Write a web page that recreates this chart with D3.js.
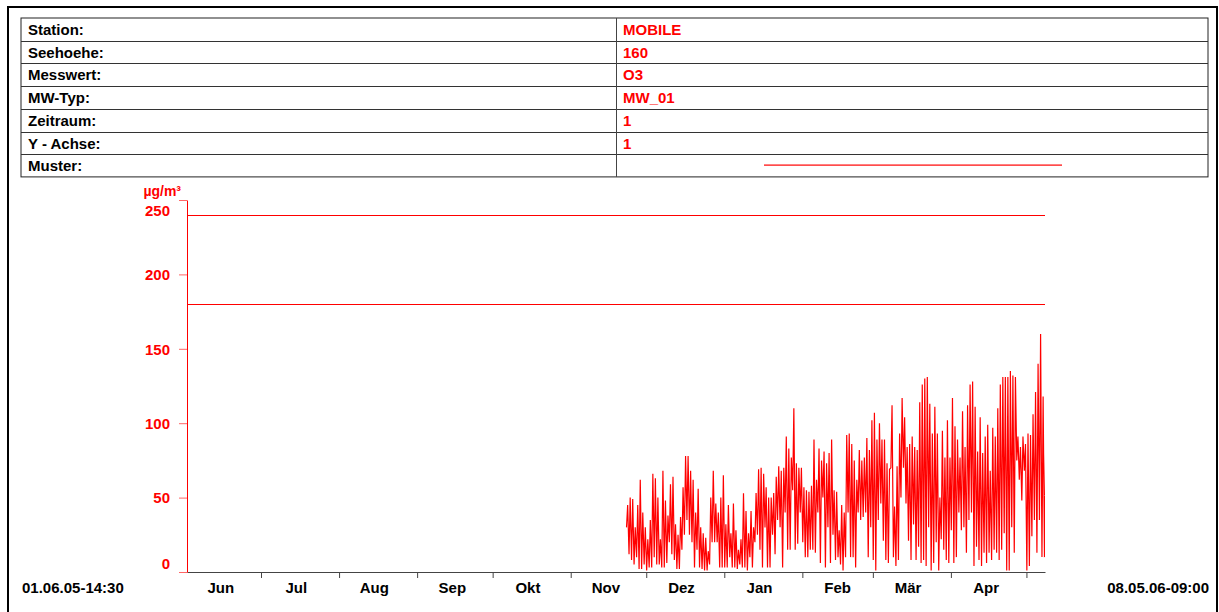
<html>
<head>
<meta charset="utf-8">
<title>O3 MOBILE</title>
<style>
  body { margin: 0; background: #fff; }
  text { font-family: "Liberation Sans", Arial, sans-serif; font-weight: bold; }
</style>
</head>
<body>
<script src="https://cdn.jsdelivr.net/npm/d3@7"></script>
<script>
    // Kopf-Tabelle
    var infoLabels = ["Station:", "Seehoehe:", "Messwert:", "MW-Typ:", "Zeitraum:", "Y - Achse:", "Muster:"];
    var infoValues = ["MOBILE", "160", "O3", "MW_01", "1", "1", ""];

    // Achsen
    var monthNames = ["Jun", "Jul", "Aug", "Sep", "Okt", "Nov", "Dez", "Jan", "Feb", "Mär", "Apr"];
    var yTicks = [0, 50, 100, 150, 200, 250];
    var limitValues = [180, 240];   // Informations- und Alarmschwelle
    var startLabel = "01.06.05-14:30";
    var endLabel = "08.05.06-09:00";

    // Tageswerte O3 (Minimum frueh, Maximum nachmittags), ab 23.11.2005
    var firstDay = new Date(2005, 10, 23);
    var o3Min = [30,12,8,5,10,2,2,5,1,3, 3,10,5,5,3,3,6,20,12,8, 2,2,15,25,35,25,20,3,15,3,
                 2,1,1,5,20,20,20,3,3,3, 3,10,3,3,2,5,3,3,1,10, 3,20,25,15,3,30,3,3,25,12,
                 35,30,3,40,15,15,55,15,19,40, 20,10,10,15,15,13,40,6,50,3, 30,6,25,8,10,5,1,10,40,10,
                 10,3,40,35,37,40,10,30,8,1, 35,46,21,8,6,70,10,4,8,50, 70,46,21,8,32,8,17,6,8,4,
                 30,1,6,20,1,22,15,8,6,28, 6,10,40,28,30,13,35,40,4,17, 8,4,13,6,13,8,15,13,8,15,
                 26,1,1,30,13,75,62,48,68,1, 4,24,35,13,35,10,10];
    var o3Max = [45,50,49,30,45,62,40,30,22,35, 66,63,50,22,68,48,38,59,64,32, 25,37,57,78,78,68,62,40,56,30,
                 26,23,14,50,68,46,40,50,65,32, 45,26,46,28,15,22,53,41,26,41, 30,53,69,70,66,57,50,50,53,64,
                 71,68,70,91,83,77,110,73,70,70, 57,55,54,58,89,62,83,75,81,73, 80,89,55,54,28,45,40,92,93,86,
                 75,62,82,75,77,90,82,102,107,89, 100,89,89,73,69,112,44,71,93,117, 104,84,86,91,84,82,114,126,130,131,
                 113,93,111,93,50,95,77,102,77,117, 98,89,77,108,84,112,126,128,111,81, 104,80,91,99,68,97,91,110,126,131,
                 131,131,135,132,131,91,84,91,86,93, 92,106,121,140,160,118,82];

    var width = 1219;
    var height = 612;
    var red = "#ff0000";
    var fs = 15;

    var svg = d3.select('body')
            .append('svg')
            .attr('width', width)
            .attr('height', height);

    // Rahmen
    svg.append('rect')
            .attr('x', 8).attr('y', 7)
            .attr('width', 1209).attr('height', 640)
            .attr('fill', 'none')
            .attr('stroke', '#000')
            .attr('stroke-width', 2);

    // Tabelle
    var tabLeft = 21, tabRight = 1208, tabTop = 18, rowH = 22.7, colX = 616;
    var rows = svg.append('g');
    rows.append('rect')
            .attr('x', tabLeft).attr('y', tabTop)
            .attr('width', tabRight - tabLeft).attr('height', rowH * infoLabels.length)
            .attr('fill', 'none').attr('stroke', '#222').attr('stroke-width', 1);
    rows.selectAll('line.row')
            .data(infoLabels.slice(1))
            .enter()
            .append('line')
            .attr('class', 'row')
            .attr('x1', tabLeft).attr('x2', tabRight)
            .attr('y1', function (d, i) { return Math.round(tabTop + (i + 1) * rowH) + 0.5; })
            .attr('y2', function (d, i) { return Math.round(tabTop + (i + 1) * rowH) + 0.5; })
            .attr('stroke', '#333');
    rows.append('line')
            .attr('x1', colX + 0.5).attr('x2', colX + 0.5)
            .attr('y1', tabTop).attr('y2', tabTop + rowH * infoLabels.length)
            .attr('stroke', '#444');
    rows.selectAll('text.lab')
            .data(infoLabels)
            .enter()
            .append('text')
            .attr('class', 'lab')
            .attr('x', 28)
            .attr('y', function (d, i) { return tabTop + i * rowH + 17; })
            .attr('font-size', fs)
            .attr('fill', '#000')
            .text(function (d) { return d; });
    rows.selectAll('text.val')
            .data(infoValues)
            .enter()
            .append('text')
            .attr('class', 'val')
            .attr('x', 623)
            .attr('y', function (d, i) { return tabTop + i * rowH + 17; })
            .attr('font-size', fs)
            .attr('fill', red)
            .text(function (d) { return d; });
    // Muster
    svg.append('rect')
            .attr('x', 764).attr('y', 164.5)
            .attr('width', 298).attr('height', 1.2)
            .attr('fill', red);

    // Skalen
    var start = new Date(2005, 5, 1, 14, 30);
    var end = new Date(2006, 4, 8, 9, 0);
    var x = d3.scaleTime().domain([start, end]).range([187, 1045]);
    var y = d3.scaleLinear().domain([0, 250]).range([572, 200]);

    // Messreihe
    var points = [];
    o3Min.forEach(function (v, i) {
        points.push({ t: d3.timeHour.offset(d3.timeDay.offset(firstDay, i), 4), v: v });
        points.push({ t: d3.timeHour.offset(d3.timeDay.offset(firstDay, i), 15), v: o3Max[i] });
    });

    svg.append('clipPath').attr('id', 'plot')
            .append('rect').attr('x', 187).attr('y', 190).attr('width', 858).attr('height', 383);

    // Grenzwerte
    svg.selectAll('line.limit')
            .data(limitValues)
            .enter()
            .append('line')
            .attr('class', 'limit')
            .attr('x1', 187).attr('x2', 1045)
            .attr('y1', function (d) { return Math.round(y(d)) + 0.5; })
            .attr('y2', function (d) { return Math.round(y(d)) + 0.5; })
            .attr('stroke', red);

    svg.append('path')
            .datum(points)
            .attr('clip-path', 'url(#plot)')
            .attr('fill', 'none')
            .attr('stroke', red)
            .attr('stroke-width', 1.2)
            .attr('d', d3.line()
                    .x(function (d) { return x(d.t); })
                    .y(function (d) { return y(d.v); }));

    // X-Achse
    var xAxis = svg.append('g')
            .attr('transform', 'translate(0,572)')
            .call(d3.axisBottom(x)
                    .tickValues(d3.timeMonth.range(d3.timeMonth.ceil(start), end))
                    .tickFormat('')
                    .tickSize(6)
                    .tickSizeOuter(0));
    xAxis.selectAll('path, line').attr('stroke', '#444');

    svg.selectAll('text.month')
            .data(monthNames)
            .enter()
            .append('text')
            .attr('class', 'month')
            .attr('x', function (d, i) { return x(new Date(2005, 5 + i, 15)); })
            .attr('y', 593)
            .attr('text-anchor', 'middle')
            .attr('font-size', fs)
            .attr('fill', '#000')
            .text(function (d) { return d; });

    svg.append('text')
            .attr('x', 22).attr('y', 593)
            .attr('font-size', fs).attr('fill', '#000')
            .text(startLabel);
    svg.append('text')
            .attr('x', 1209).attr('y', 593)
            .attr('text-anchor', 'end')
            .attr('font-size', fs).attr('fill', '#000')
            .text(endLabel);

    // Y-Achse
    var yAxis = svg.append('g')
            .attr('transform', 'translate(187,0)')
            .call(d3.axisLeft(y)
                    .tickValues(yTicks)
                    .tickSize(8)
                    .tickSizeOuter(0)
                    .tickPadding(9));
    yAxis.select('.domain').attr('stroke', red);
    yAxis.selectAll('.tick line').attr('stroke', '#ff6666');
    yAxis.selectAll('.tick text')
            .attr('fill', red)
            .attr('font-size', 15)
            .attr('font-family', '"Liberation Sans", Arial, sans-serif')
            .attr('font-weight', 'bold')
            .attr('dy', function (d) { return d === 250 ? '1.0em' : (d === 0 ? '-0.25em' : '0.35em'); });

    svg.append('text')
            .attr('x', 181).attr('y', 196)
            .attr('text-anchor', 'end')
            .attr('font-size', 14)
            .attr('fill', red)
            .text('µg/m³');
</script>
</body>
</html>
